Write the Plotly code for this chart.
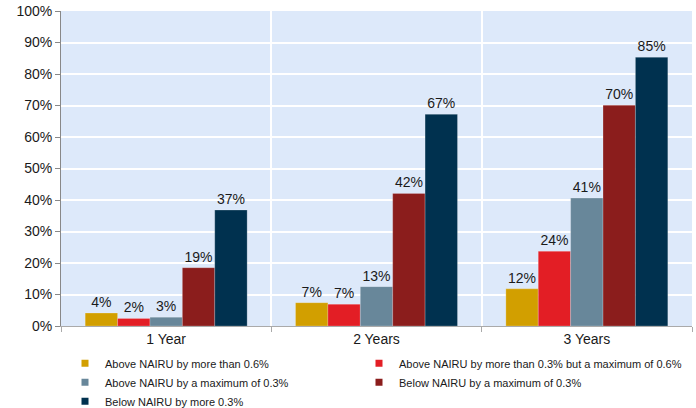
import plotly.graph_objects as go

categories = ["1 Year", "2 Years", "3 Years"]
series_names = [
    "Above NAIRU by more than 0.6%",
    "Above NAIRU by more than 0.3% but a maximum of 0.6%",
    "Above NAIRU by a maximum of 0.3%",
    "Below NAIRU by a maximum of 0.3%",
    "Below NAIRU by more 0.3%",
]
above_06 = [4.1, 7.4, 11.8]
above_03_06 = [2.4, 6.9, 23.7]
above_max_03 = [2.8, 12.5, 40.6]
below_max_03 = [18.5, 42.1, 70.1]
below_more_03 = [36.8, 67.2, 85.3]
series_values = [above_06, above_03_06, above_max_03, below_max_03, below_more_03]
colors = ["#D29F00", "#E31E25", "#68879A", "#8B1D1C", "#00314F"]
legend_column = ["legend", "legend2", "legend", "legend2", "legend"]

FONT = "Liberation Sans, Arial, sans-serif"

fig = go.Figure()
for name, vals, col in zip(series_names, series_values, colors):
    fig.add_trace(go.Bar(
        x=categories, y=vals, name=name, showlegend=False,
        marker=dict(color=col, line=dict(color="rgba(255,255,255,0.35)", width=0.6)),
        texttemplate="%{y:.0f}%", textposition="outside",
        textfont=dict(size=14, color="#1a1a1a", family=FONT),
        cliponaxis=False,
    ))
# small square legend markers, split into two columns
for name, col, lg in zip(series_names, colors, legend_column):
    fig.add_trace(go.Scatter(
        x=[None], y=[None], mode="markers", name=name, legend=lg,
        marker=dict(symbol="square", size=7, color=col),
        showlegend=True,
    ))

legend_common = dict(
    orientation="v", xref="container", yref="container", xanchor="left",
    yanchor="top", y=0.145,
    font=dict(size=11, family=FONT, color="#1a1a1a"),
    itemwidth=30, traceorder="normal", bgcolor="rgba(0,0,0,0)",
    tracegroupgap=0, borderwidth=0,
)

fig.update_layout(
    width=696, height=408,
    margin=dict(l=61, r=4, t=11, b=82, autoexpand=False),
    barmode="group", bargap=0.23, bargroupgap=0,
    plot_bgcolor="#DDE9FA", paper_bgcolor="white",
    font=dict(family=FONT, size=14, color="#1a1a1a"),
    showlegend=True,
    legend=dict(x=65 / 696, **legend_common),
    legend2=dict(x=359 / 696, **legend_common),
)
fig.update_yaxes(
    range=[0, 100], dtick=10, ticksuffix="%", showgrid=True, gridcolor="white", gridwidth=1.5,
    showline=True, linecolor="#888888", linewidth=1, ticks="outside", ticklen=5,
    tickcolor="#888888", tickfont=dict(size=14), zeroline=False,
)
fig.update_xaxes(
    tickson="boundaries", showgrid=True, gridcolor="white", gridwidth=1.5,
    showline=True, linecolor="#aaaaaa", linewidth=1, ticks="outside", ticklen=5,
    tickcolor="#aaaaaa", tickfont=dict(size=14),
)

fig.write_html("out.html")
